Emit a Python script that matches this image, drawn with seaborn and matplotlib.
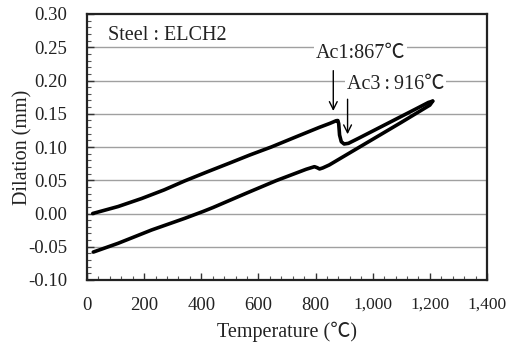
import matplotlib
matplotlib.use("Agg")
import matplotlib.pyplot as plt
import seaborn as sns
from matplotlib.ticker import MultipleLocator, FuncFormatter

sns.set_theme(style="ticks")
plt.rcParams['font.family'] = ['Liberation Serif', 'Noto Sans CJK JP', 'DejaVu Sans']

# Dilatometer trace of ELCH2 steel: heating branch
heat_temp = [20, 109, 191, 270, 342, 420, 500, 570, 645, 730, 813, 850, 872, 878, 881, 884, 890, 900, 915, 950, 1000, 1050, 1100, 1150, 1195, 1210]
heat_dil = [0.000, 0.0105, 0.0225, 0.0355, 0.049, 0.0625, 0.076, 0.088, 0.100, 0.115, 0.1295, 0.1355, 0.1395, 0.1398, 0.135, 0.118, 0.108, 0.1045, 0.1055, 0.113, 0.124, 0.135, 0.146, 0.157, 0.167, 0.169]

# Cooling branch
cool_temp = [1210, 1200, 1100, 1000, 918, 848, 825, 814, 805, 796, 767, 662, 557, 441, 406, 342, 226, 109, 22]
cool_dil = [0.169, 0.163, 0.137, 0.1116, 0.0908, 0.073, 0.0685, 0.067, 0.069, 0.0704, 0.0665, 0.0494, 0.0304, 0.009, 0.003, -0.0073, -0.0248, -0.0448, -0.058]

x_ticks = [0, 200, 400, 600, 800, 1000, 1200, 1400]
y_ticks = [-0.10, -0.05, 0.00, 0.05, 0.10, 0.15, 0.20, 0.25, 0.30]

fig = plt.figure(figsize=(5.14, 3.44), dpi=100)
ax = fig.add_axes([87 / 514, 1 - 280 / 344, 400 / 514, 266 / 344])

for y in y_ticks[1:-1]:
    ax.axhline(y, color='#a0a0a0', lw=1.0, zorder=0)

sns.lineplot(x=heat_temp, y=heat_dil, sort=False, estimator=None, color='black', lw=2.6, ax=ax, zorder=3)
sns.lineplot(x=cool_temp, y=cool_dil, sort=False, estimator=None, color='black', lw=2.6, ax=ax, zorder=3)

ax.set_xlim(0, 1400)
ax.set_ylim(-0.10, 0.30)
ax.set_xticks(x_ticks)
ax.set_yticks(y_ticks)
ax.xaxis.set_minor_locator(MultipleLocator(40))
ax.yaxis.set_minor_locator(MultipleLocator(0.01))
ax.xaxis.set_major_formatter(FuncFormatter(lambda v, p: f"{int(v):,}"))
ax.yaxis.set_major_formatter(FuncFormatter(lambda v, p: f"{v:.2f}"))
ax.tick_params(which='major', direction='in', length=5, width=1, color='#333333',
               labelsize=13.5, labelcolor='#222222')
ax.tick_params(which='minor', direction='in', length=3, width=0.8, color='#555555')
ax.tick_params(axis='x', which='both', bottom=True, top=False)
ax.tick_params(axis='y', which='both', left=True, right=False)
ax.tick_params(axis='x', which='major', pad=12)
ax.tick_params(axis='y', which='major', pad=14)
for lbl in ax.get_xticklabels()[5:]:
    lbl.set_fontsize(12.5)

for s in ax.spines.values():
    s.set_color('#222222')
    s.set_linewidth(1.6)
    s.set_visible(True)

ax.set_xlabel('Temperature (℃)', fontsize=14.5, color='#222222', labelpad=6)
ax.set_ylabel('Dilation (mm)', fontsize=14.5, color='#222222', labelpad=-3)

ax.text(73, 0.268, 'Steel : ELCH2', fontsize=14.5, color='#222222', va='center', ha='left')

ax.annotate('', xy=(862, 0.150), xytext=(862, 0.219),
            arrowprops=dict(arrowstyle='->', color='black', lw=1.0, mutation_scale=14))
ax.annotate('', xy=(912, 0.115), xytext=(912, 0.176),
            arrowprops=dict(arrowstyle='->', color='black', lw=1.0, mutation_scale=14))
ax.text(958, 0.241, 'Ac1:867℃', fontsize=14.5, color='#222222', ha='center', va='center',
        bbox=dict(facecolor='white', edgecolor='none', pad=1.5))
ax.text(1079, 0.1947, 'Ac3\u2009:\u2009916℃', fontsize=14.5, color='#222222', ha='center', va='center',
        bbox=dict(facecolor='white', edgecolor='none', pad=1.5))

fig.savefig('out.png', dpi=100)
